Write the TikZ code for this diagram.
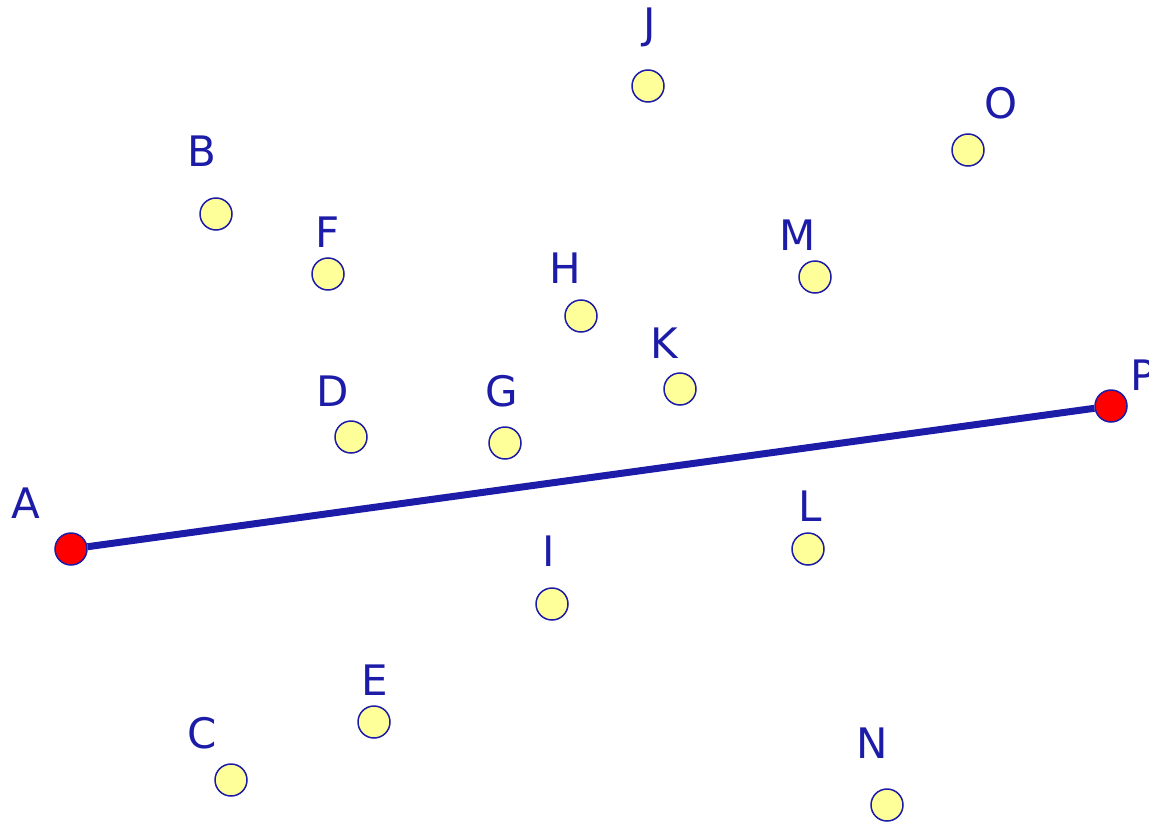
\documentclass[tikz,border=0pt]{standalone}
\usepackage{fontspec}
\setmainfont{DejaVu Sans}
\definecolor{inkblue}{RGB}{28,28,168}
\definecolor{dotyellow}{RGB}{255,255,153}
\begin{document}
\begin{tikzpicture}[x=0.5pt, y=-0.5pt,
    pt/.style={circle, draw=inkblue, fill=dotyellow, line width=0.75pt, minimum size=16pt, inner sep=0pt},
    endpt/.style={pt, fill=red},
    lab/.style={text=inkblue, font=\fontsize{21}{24}\selectfont, inner sep=0pt}]
        \useasboundingbox (0,0) rectangle (1149,824);
        \foreach \n/\x/\y/\lx/\ly in {B/216/214/202/151, C/231/780/202/733, D/351/437/333/391,
            E/374/722/375/680, F/328/274/328/232, G/505/443/502/391, H/581/316/565/268,
            I/552/604/549/551, J/648/86/650/27, K/680/389/664/343, L/808/549/810/506,
            M/815/277/798/235, N/887/805/872/743, O/968/150/1001/103}{%
            \node[pt] (\n) at (\x,\y) {};
            \node[lab] (lab\n) at (\lx,\ly) {\n};
        }
        \node[endpt] (A) at (71,549) {};
        \node[endpt] (P) at (1111,406) {};
        \draw[line width=3.5pt, inkblue] (A) -- (P);
        \node[lab] (labA) at (26,503) {A};
        \node[lab] (labP) at (1143,375) {P};
    \end{tikzpicture}
\end{document}
